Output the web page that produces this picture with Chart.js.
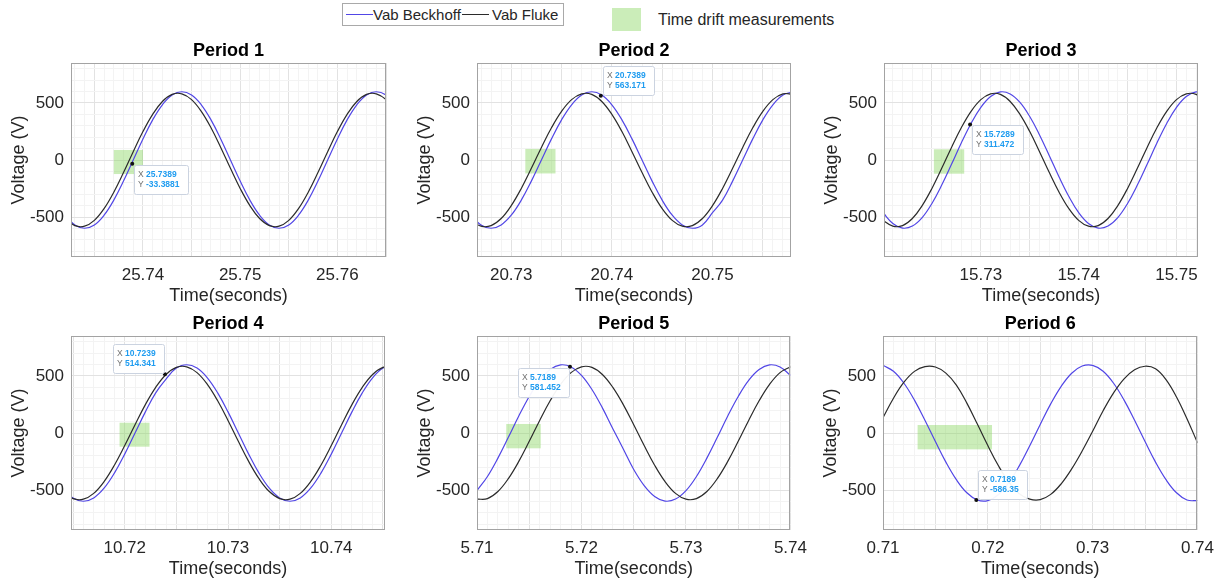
<!DOCTYPE html>
<html>
<head>
<meta charset="utf-8">
<title>Vab time drift</title>
<script src="https://cdn.jsdelivr.net/npm/chart.js@4.4.1/dist/chart.umd.min.js"></script>
<style>
  body { margin: 0; width: 1220px; height: 585px; position: relative; overflow: hidden; background: #fff;
         font-family: "Liberation Sans", Arial, Helvetica, sans-serif; color: #262626; }
  #legend { position: absolute; left: 342px; top: 3px; width: 222px; height: 23px; box-sizing: border-box;
            border: 1px solid #a9a9a9; background: #fff; }
  #legend .line { position: absolute; top: 10px; width: 27px; height: 0; border-top: 1.3px solid; }
  #legend .txt { position: absolute; top: 0; line-height: 22px; font-size: 15px; white-space: nowrap; }
  #driftKey .patch { position: absolute; left: 612px; top: 8px; width: 29px; height: 23px; background: rgba(140, 215, 100, 0.45); }
  #driftKey .txt { position: absolute; left: 658px; top: 8px; line-height: 23px; font-size: 16px; white-space: nowrap; }
</style>
</head>
<body>
<div id="legend">
  <span class="line" style="left:3px;border-color:#5146e6"></span><span class="txt" style="left:30px">Vab Beckhoff</span>
  <span class="line" style="left:119px;border-color:#2b2b2b"></span><span class="txt" style="left:149px">Vab Fluke</span>
</div>
<div id="driftKey"><span class="patch"></span><span class="txt">Time drift measurements</span></div>
<script>
// ---- data ----
const periodTitles = ['Period 1', 'Period 2', 'Period 3', 'Period 4', 'Period 5', 'Period 6'];

const time1 = [25.732, 25.733, 25.734, 25.735, 25.736, 25.737, 25.738, 25.739, 25.740, 25.741, 25.742, 25.743,
  25.744, 25.745, 25.746, 25.747, 25.748, 25.749, 25.750, 25.751, 25.752, 25.753, 25.754, 25.755, 25.756, 25.757,
  25.758, 25.759, 25.760, 25.761, 25.762, 25.763, 25.764, 25.765, 25.766];
const beckhoff1 = [-484, -569, -598, -569, -484, -352, -185, 0, 185, 352, 484, 569, 598, 569, 484, 352, 185, 0,
  -185, -352, -484, -569, -598, -569, -484, -352, -185, 0, 185, 352, 484, 569, 598, 569, 484];
const fluke1 = [-513, -575, -580, -529, -426, -282, -110, 73, 249, 400, 513, 575, 580, 529, 426, 282, 110, -73,
  -249, -400, -513, -575, -580, -529, -426, -282, -110, 73, 249, 400, 513, 575, 580, 529, 426];

const time2 = [20.726, 20.727, 20.728, 20.729, 20.730, 20.731, 20.732, 20.733, 20.734, 20.735, 20.736, 20.737,
  20.738, 20.739, 20.740, 20.741, 20.742, 20.743, 20.744, 20.745, 20.746, 20.747, 20.748, 20.749, 20.750, 20.751,
  20.752, 20.753, 20.754, 20.755, 20.756, 20.757, 20.758];
const beckhoff2 = [-484, -569, -598, -569, -484, -352, -185, 0, 185, 352, 484, 569, 598, 569, 484, 352, 185, 0,
  -185, -352, -484, -569, -598, -569, -462, -352, -185, 0, 185, 352, 484, 569, 598];
const fluke2 = [-529, -580, -575, -513, -400, -249, -73, 110, 282, 426, 529, 580, 575, 513, 400, 249, 73, -110,
  -282, -426, -529, -580, -575, -513, -400, -249, -73, 110, 282, 426, 529, 580, 575];

const time3 = [15.720, 15.721, 15.722, 15.723, 15.724, 15.725, 15.726, 15.727, 15.728, 15.729, 15.730, 15.731,
  15.732, 15.733, 15.734, 15.735, 15.736, 15.737, 15.738, 15.739, 15.740, 15.741, 15.742, 15.743, 15.744, 15.745,
  15.746, 15.747, 15.748, 15.749, 15.750, 15.751, 15.752, 15.753];
const beckhoff3 = [-461, -556, -597, -579, -505, -381, -220, -38, 149, 320, 461, 556, 597, 579, 505, 381, 220, 38,
  -149, -320, -461, -556, -597, -579, -505, -381, -220, -38, 149, 320, 461, 556, 597, 579];
const fluke3 = [-529, -580, -575, -513, -400, -249, -73, 110, 282, 426, 529, 580, 575, 513, 400, 249, 73, -110,
  -282, -426, -529, -580, -575, -513, -400, -249, -73, 110, 282, 426, 529, 580, 575, 513];

const time4 = [10.714, 10.715, 10.716, 10.717, 10.718, 10.719, 10.720, 10.721, 10.722, 10.723, 10.724, 10.725,
  10.726, 10.727, 10.728, 10.729, 10.730, 10.731, 10.732, 10.733, 10.734, 10.735, 10.736, 10.737, 10.738, 10.739,
  10.740, 10.741, 10.742, 10.743, 10.744, 10.745, 10.746];
const beckhoff4 = [-484, -569, -598, -569, -484, -352, -185, 0, 185, 352, 472, 569, 598, 569, 484, 352, 185, 0,
  -185, -352, -484, -569, -598, -569, -484, -352, -185, 0, 185, 352, 484, 569, 598];
const fluke4 = [-513, -575, -580, -529, -426, -282, -110, 73, 249, 400, 513, 575, 580, 529, 426, 282, 110, -73,
  -249, -400, -513, -575, -580, -529, -426, -282, -110, 73, 249, 400, 513, 575, 580];

const time5 = [5.710, 5.711, 5.712, 5.713, 5.714, 5.715, 5.716, 5.717, 5.718, 5.719, 5.720, 5.721, 5.722, 5.723,
  5.724, 5.725, 5.726, 5.727, 5.728, 5.729, 5.730, 5.731, 5.732, 5.733, 5.734, 5.735, 5.736, 5.737, 5.738, 5.739, 5.740];
const beckhoff5 = [-505, -381, -220, -38, 149, 320, 461, 556, 597, 579, 505, 381, 220, 38, -140, -320, -461, -556,
  -597, -579, -505, -381, -220, -38, 149, 320, 461, 556, 597, 579, 505];
const fluke5 = [-580, -575, -513, -400, -249, -73, 110, 282, 426, 529, 580, 575, 513, 400, 249, 73, -110, -282,
  -426, -529, -580, -575, -513, -400, -249, -73, 110, 282, 426, 529, 580];

const time6 = [0.710, 0.711, 0.712, 0.713, 0.714, 0.715, 0.716, 0.717, 0.718, 0.719, 0.720, 0.721, 0.722, 0.723,
  0.724, 0.725, 0.726, 0.727, 0.728, 0.729, 0.730, 0.731, 0.732, 0.733, 0.734, 0.735, 0.736, 0.737, 0.738, 0.739, 0.740];
const beckhoff6 = [593, 541, 436, 288, 112, -75, -255, -409, -524, -587, -593, -541, -436, -288, -112, 75, 255, 409,
  524, 587, 593, 541, 436, 288, 112, -75, -255, -409, -524, -587, -593];
const fluke6 = [135, 305, 445, 540, 582, 578, 525, 420, 262, 78, -110, -285, -430, -532, -580, -584, -538, -445,
  -315, -158, 15, 195, 352, 475, 555, 585, 563, 468, 316, 125, -85];

// visible time window of each panel
const xMin = [25.7326, 20.7266, 15.7201, 10.7148, 5.71, 0.71];
const xMax = [25.7650, 20.7578, 15.7522, 10.7452, 5.74, 0.74];

// green time drift boxes (time from/to, voltage low/high)
const driftStart = [25.7370, 20.7314, 15.7252, 10.7195, 5.7128, 0.7133];
const driftEnd = [25.7400, 20.7344, 15.7283, 10.7224, 5.7161, 0.7204];
const driftLow = [-123, -118, -120, -120, -134, -143];
const driftHigh = [88, 97, 94, 90, 79, 70];

// data tips
const tipX = [25.7389, 20.7389, 15.7289, 10.7239, 5.7189, 0.7189];
const tipY = [-33.3881, 563.171, 311.472, 514.341, 581.452, -586.35];

// ---- layout / style ----
const FONT = '"Liberation Sans", Arial, Helvetica, sans-serif';
const BLUE = '#5146e6';
const BLACK = '#2b2b2b';
const DRIFT = 'rgba(140, 215, 100, 0.45)';
const GRID_MAJOR = '#e2e2e2';
const GRID_MINOR = '#f3f3f3';

const plotBoxes = [
  { l: 71, t: 63, r: 386, b: 257 },
  { l: 477, t: 63, r: 791, b: 257 },
  { l: 884, t: 63, r: 1198, b: 257 },
  { l: 71, t: 336, r: 385, b: 530 },
  { l: 477, t: 336, r: 791, b: 530 },
  { l: 883, t: 336, r: 1198, b: 530 }
];
const tipSide = ['se', 'ne', 'se', 'nw', 'sw', 'ne'];
const YW = 71, TH = 30, XH = 50, RP = 24;

Chart.defaults.font.family = FONT;
Chart.defaults.color = '#262626';

const panels = [
  [time1, beckhoff1, fluke1], [time2, beckhoff2, fluke2], [time3, beckhoff3, fluke3],
  [time4, beckhoff4, fluke4], [time5, beckhoff5, fluke5], [time6, beckhoff6, fluke6]
];

function near(v, m) {
  const q = v / m;
  return Math.abs(q - Math.round(q)) < 1e-6;
}

// one tick per grid line, labels are filtered in the callbacks
function gridTicks(step) {
  return scale => {
    const ticks = [];
    const k0 = Math.ceil(scale.min / step - 1e-6), k1 = Math.floor(scale.max / step + 1e-6);
    for (let k = k0; k <= k1; k++) ticks.push({ value: Number((k * step).toFixed(6)) });
    scale.ticks = ticks;
  };
}

const framePlugin = {
  id: 'frame',
  afterDraw(chart) {
    const { ctx, chartArea: a } = chart;
    ctx.save();
    ctx.strokeStyle = '#a3a3a3';
    ctx.lineWidth = 1;
    ctx.strokeRect(Math.round(a.left) + 0.5, Math.round(a.top) + 0.5,
      Math.round(a.right - a.left) - 1, Math.round(a.bottom - a.top) - 1);
    ctx.restore();
  }
};

const driftPlugin = {
  id: 'drift',
  beforeDatasetsDraw(chart, args, o) {
    const { ctx, scales: { x, y } } = chart;
    const x0 = x.getPixelForValue(o.start), x1 = x.getPixelForValue(o.end);
    const y0 = y.getPixelForValue(o.high), y1 = y.getPixelForValue(o.low);
    ctx.save();
    ctx.fillStyle = DRIFT;
    ctx.fillRect(x0, y0, x1 - x0, y1 - y0);
    ctx.restore();
  }
};

const datatipPlugin = {
  id: 'datatip',
  afterDatasetsDraw(chart, args, o) {
    const { ctx, scales: { x, y } } = chart;
    const px = x.getPixelForValue(o.x), py = y.getPixelForValue(o.y);
    const rows = [['X', String(o.x)], ['Y', String(o.y)]];
    ctx.save();
    ctx.font = 'bold 8.5px ' + FONT;
    const numW = Math.max(...rows.map(r => ctx.measureText(r[1]).width));
    const w = Math.round(numW + 20), h = 29;
    const bx = Math.round(o.side.includes('e') ? px + 2 : px - w - 1);
    const by = Math.round(o.side.includes('s') ? py + 1 : py - h - 1);
    ctx.fillStyle = 'rgba(255,255,255,0.95)';
    ctx.strokeStyle = '#cbd3e0';
    ctx.lineWidth = 1;
    ctx.beginPath();
    ctx.roundRect(bx + 0.5, by + 0.5, w, h, 2);
    ctx.fill();
    ctx.stroke();
    ctx.textBaseline = 'middle';
    rows.forEach((r, k) => {
      const ty = by + 10 + k * 10;
      ctx.font = '8.5px ' + FONT;
      ctx.fillStyle = '#6e6e6e';
      ctx.fillText(r[0], bx + 4, ty);
      ctx.font = 'bold 8.5px ' + FONT;
      ctx.fillStyle = '#1f9cf0';
      ctx.fillText(r[1], bx + 12, ty);
    });
    ctx.restore();
  }
};

panels.forEach(([time, beckhoff, fluke], i) => {
  const box = plotBoxes[i];
  const w = (box.r - box.l) + YW + RP;
  const h = (box.b - box.t) + TH + XH;
  const canvas = document.createElement('canvas');
  canvas.width = w;
  canvas.height = h;
  canvas.style.cssText = `position:absolute;left:${box.l - YW}px;top:${box.t - TH}px;width:${w}px;height:${h}px`;
  document.body.appendChild(canvas);

  new Chart(canvas, {
    type: 'line',
    data: {
      datasets: [{
        data: [{ x: tipX[i], y: tipY[i] }],
        showLine: false,
        pointRadius: 2,
        pointBorderWidth: 0,
        pointBackgroundColor: '#111'
      }, {
        label: 'Vab Fluke',
        data: time.map((t, k) => ({ x: t, y: fluke[k] })),
        borderColor: BLACK,
        borderWidth: 1.2,
        pointRadius: 0,
        tension: 0.4
      }, {
        label: 'Vab Beckhoff',
        data: time.map((t, k) => ({ x: t, y: beckhoff[k] })),
        borderColor: BLUE,
        borderWidth: 1.2,
        pointRadius: 0,
        tension: 0.4
      }]
    },
    options: {
      responsive: false,
      animation: false,
      events: [],
      layout: { padding: { left: 0, right: RP, top: 0, bottom: 0 } },
      plugins: {
        legend: { display: false },
        tooltip: { enabled: false },
        title: {
          display: true,
          text: periodTitles[i],
          fullSize: false,
          color: '#000',
          font: { size: 18, weight: 'bold' },
          padding: { top: TH - 21.6 - 1, bottom: 1 }
        },
        drift: { start: driftStart[i], end: driftEnd[i], low: driftLow[i], high: driftHigh[i] },
        datatip: { x: tipX[i], y: tipY[i], side: tipSide[i] }
      },
      scales: {
        x: {
          type: 'linear',
          min: xMin[i],
          max: xMax[i],
          afterBuildTicks: gridTicks(0.001),
          afterFit: s => { s.height = XH; },
          border: { display: false },
          grid: {
            drawTicks: false,
            color: c => (c.tick && near(c.tick.value, 0.005)) ? GRID_MAJOR : GRID_MINOR
          },
          ticks: {
            autoSkip: false,
            maxRotation: 0,
            minRotation: 0,
            padding: 8,
            font: { size: 17 },
            callback: v => near(v, 0.01) ? v.toFixed(2) : ''
          },
          title: { display: true, text: 'Time(seconds)', font: { size: 18 }, padding: { top: 0, bottom: 0 } }
        },
        y: {
          min: -850,
          max: 850,
          afterBuildTicks: gridTicks(100),
          afterFit: s => { s.width = YW; },
          border: { display: false },
          grid: {
            drawTicks: false,
            color: c => (c.tick && near(c.tick.value, 500)) ? GRID_MAJOR : GRID_MINOR
          },
          ticks: {
            autoSkip: false,
            padding: 7,
            font: { size: 17 },
            callback: v => near(v, 500) ? String(Math.round(v)) : ''
          },
          title: { display: true, text: 'Voltage (V)', font: { size: 18 }, padding: { top: 8.2, bottom: 0 } }
        }
      }
    },
    plugins: [framePlugin, driftPlugin, datatipPlugin]
  });
});
</script>
</body>
</html>
